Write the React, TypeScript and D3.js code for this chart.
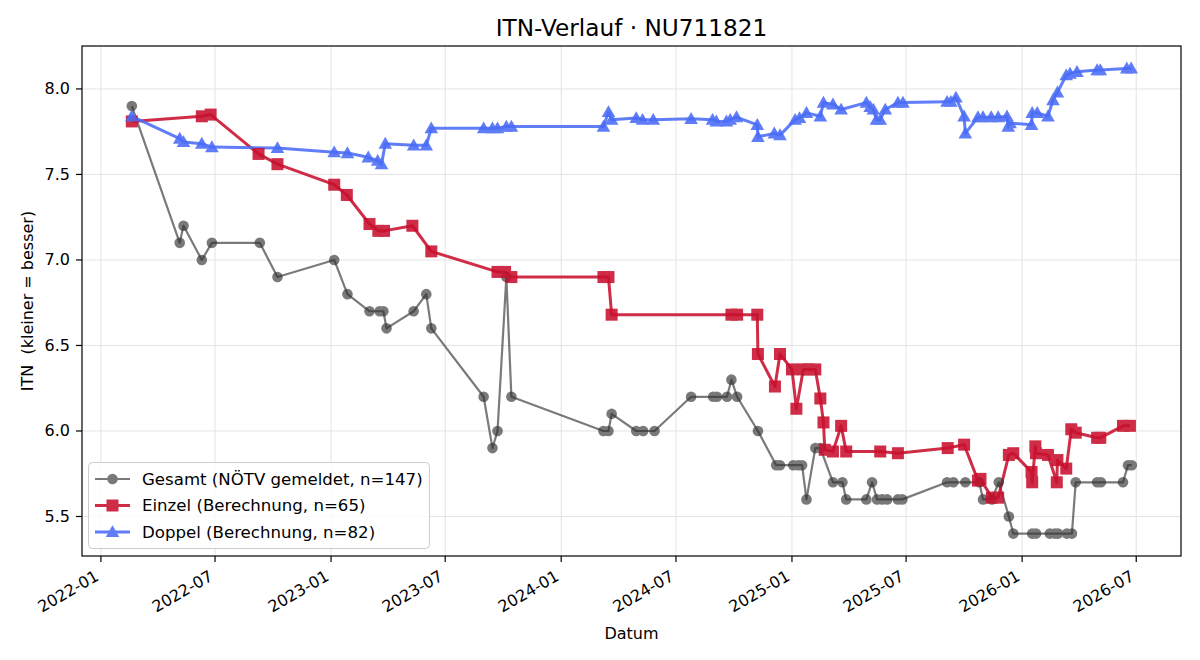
import React from 'react';
import * as d3 from 'd3';

// Gesamt (NÖTV gemeldet)
const gesamtDates = [
  '2022-02-19', '2022-05-06', '2022-05-12', '2022-06-10', '2022-06-26', '2022-09-10', '2022-10-08',
  '2023-01-06', '2023-01-27', '2023-03-03', '2023-03-19', '2023-03-25', '2023-03-30', '2023-05-12',
  '2023-06-01', '2023-06-09', '2023-08-31', '2023-09-14', '2023-09-22', '2023-10-06', '2023-10-14',
  '2024-03-08', '2024-03-16', '2024-03-21', '2024-04-29', '2024-05-10', '2024-05-28', '2024-07-25',
  '2024-08-29', '2024-09-04', '2024-09-20', '2024-09-27', '2024-10-06', '2024-11-08', '2024-12-07',
  '2024-12-13', '2025-01-03', '2025-01-11', '2025-01-17', '2025-01-24', '2025-02-07', '2025-02-15',
  '2025-03-07', '2025-03-22', '2025-03-28', '2025-04-29', '2025-05-08', '2025-05-16', '2025-05-24',
  '2025-06-01', '2025-06-18', '2025-06-25', '2025-09-04', '2025-09-14', '2025-10-03', '2025-10-25',
  '2025-10-31', '2025-11-14', '2025-11-25', '2025-12-11', '2025-12-18', '2026-01-17', '2026-01-23',
  '2026-02-14', '2026-02-22', '2026-02-27', '2026-03-13', '2026-03-21', '2026-03-27', '2026-04-30',
  '2026-05-06', '2026-06-10', '2026-06-18', '2026-06-24',
];
const gesamtValues = [
  7.9, 7.1, 7.2, 7.0, 7.1, 7.1, 6.9,
  7.0, 6.8, 6.7, 6.7, 6.7, 6.6, 6.7,
  6.8, 6.6, 6.2, 5.9, 6.0, 6.9, 6.2,
  6.0, 6.0, 6.1, 6.0, 6.0, 6.0, 6.2,
  6.2, 6.2, 6.2, 6.3, 6.2, 6.0, 5.8,
  5.8, 5.8, 5.8, 5.8, 5.6, 5.9, 5.9,
  5.7, 5.7, 5.6, 5.6, 5.7, 5.6, 5.6,
  5.6, 5.6, 5.6, 5.7, 5.7, 5.7, 5.7,
  5.6, 5.6, 5.7, 5.5, 5.4, 5.4, 5.4,
  5.4, 5.4, 5.4, 5.4, 5.4, 5.7, 5.7,
  5.7, 5.7, 5.8, 5.8,
];

// Einzel (Berechnung)
const einzelDates = [
  '2022-02-19', '2022-06-10', '2022-06-24', '2022-09-08', '2022-10-08', '2023-01-06', '2023-01-26',
  '2023-03-03', '2023-03-17', '2023-03-26', '2023-05-10', '2023-06-09', '2023-09-22', '2023-10-04',
  '2023-10-14', '2024-03-08', '2024-03-16', '2024-03-21', '2024-09-27', '2024-10-06', '2024-11-07',
  '2024-11-08', '2024-12-05', '2024-12-13', '2025-01-01', '2025-01-08', '2025-01-19', '2025-01-27',
  '2025-02-07', '2025-02-15', '2025-02-20', '2025-02-22', '2025-03-07', '2025-03-20', '2025-03-28',
  '2025-05-21', '2025-06-18', '2025-09-05', '2025-10-01', '2025-10-23', '2025-10-27', '2025-11-14',
  '2025-11-24', '2025-12-11', '2025-12-18', '2026-01-16', '2026-01-17', '2026-01-22', '2026-01-23',
  '2026-02-11', '2026-02-25', '2026-02-26', '2026-03-12', '2026-03-20', '2026-03-27', '2026-04-30',
  '2026-05-05', '2026-06-10', '2026-06-21',
];
const einzelValues = [
  7.81, 7.84, 7.85, 7.62, 7.56, 7.44, 7.38,
  7.21, 7.17, 7.17, 7.2, 7.05, 6.93, 6.93,
  6.9, 6.9, 6.9, 6.68, 6.68, 6.68, 6.68,
  6.45, 6.26, 6.45, 6.36, 6.13, 6.36, 6.36,
  6.36, 6.19, 6.05, 5.89, 5.88, 6.03, 5.88,
  5.88, 5.87, 5.9, 5.92, 5.71, 5.72, 5.61,
  5.61, 5.86, 5.87, 5.76, 5.7, 5.91, 5.87,
  5.86, 5.7, 5.83, 5.78, 6.01, 5.99, 5.96,
  5.96, 6.03, 6.03,
];

// Doppel (Berechnung)
const doppelDates = [
  '2022-02-19', '2022-05-06', '2022-05-12', '2022-06-10', '2022-06-26', '2022-10-08', '2023-01-06',
  '2023-01-27', '2023-03-01', '2023-03-16', '2023-03-22', '2023-03-28', '2023-05-12', '2023-06-01',
  '2023-06-09', '2023-08-31', '2023-09-14', '2023-09-22', '2023-10-06', '2023-10-14', '2024-03-08',
  '2024-03-16', '2024-03-21', '2024-04-29', '2024-05-09', '2024-05-26', '2024-07-25', '2024-08-28',
  '2024-09-03', '2024-09-19', '2024-09-25', '2024-10-05', '2024-11-07', '2024-11-08', '2024-12-04',
  '2024-12-13', '2025-01-06', '2025-01-13', '2025-01-24', '2025-02-15', '2025-02-20', '2025-03-07',
  '2025-03-20', '2025-04-29', '2025-05-05', '2025-05-10', '2025-05-15', '2025-05-21', '2025-05-29',
  '2025-06-18', '2025-06-26', '2025-09-04', '2025-09-10', '2025-09-18', '2025-10-01', '2025-10-03',
  '2025-10-23', '2025-10-31', '2025-11-13', '2025-11-24', '2025-12-08', '2025-12-10', '2025-12-13',
  '2026-01-16', '2026-01-17', '2026-01-25', '2026-02-11', '2026-02-19', '2026-02-26', '2026-03-12',
  '2026-03-18', '2026-03-29', '2026-04-30', '2026-05-05', '2026-06-16', '2026-06-23',
];
const doppelValues = [
  7.84, 7.71, 7.69, 7.68, 7.66, 7.655, 7.63,
  7.625, 7.6, 7.58, 7.56, 7.68, 7.67, 7.67,
  7.77, 7.77, 7.77, 7.77, 7.78, 7.78, 7.78,
  7.865, 7.82, 7.83, 7.82, 7.82, 7.825, 7.82,
  7.81, 7.81, 7.82, 7.835, 7.79, 7.72, 7.74,
  7.73, 7.82, 7.83, 7.86, 7.84, 7.92, 7.91,
  7.88, 7.92, 7.895, 7.88, 7.82, 7.82, 7.88,
  7.92, 7.92, 7.925, 7.925, 7.95, 7.84, 7.74,
  7.835, 7.835, 7.835, 7.835, 7.84, 7.78, 7.8,
  7.79, 7.86, 7.86, 7.84, 7.935, 7.98, 8.08,
  8.09, 8.1, 8.11, 8.11, 8.12, 8.12,
];

const yTicks = [5.5, 6.0, 6.5, 7.0, 7.5, 8.0];
const xTickLabels = [
  '2022-01', '2022-07', '2023-01', '2023-07', '2024-01',
  '2024-07', '2025-01', '2025-07', '2026-01', '2026-07',
];
const legendLabels = [
  'Gesamt (NÖTV gemeldet, n=147)',
  'Einzel (Berechnung, n=65)',
  'Doppel (Berechnung, n=82)',
];

const W = 1200;
const H = 660;
const plot = { left: 82, right: 1181, top: 46, bottom: 556 };
const font = 'DejaVu Sans, Verdana, sans-serif';

const parse = d3.timeParse('%Y-%m-%d');
const parseMonth = d3.timeParse('%Y-%m');

type Pt = { date: Date; value: number };
const toPoints = (dates: string[], values: number[]): Pt[] =>
  dates.map((d, i) => ({ date: parse(d) as Date, value: values[i] }));

const series = [
  { name: legendLabels[0], pts: toPoints(gesamtDates, gesamtValues), color: '#333333', opacity: 0.65, width: 2.2, marker: 'circle' },
  { name: legendLabels[1], pts: toPoints(einzelDates, einzelValues), color: '#c8102e', opacity: 0.88, width: 3, marker: 'square' },
  { name: legendLabels[2], pts: toPoints(doppelDates, doppelValues), color: '#4a6cf7', opacity: 0.88, width: 3, marker: 'triangle' },
];

const Marker = ({ kind, x, y, color }: { kind: string; x: number; y: number; color: string }) => {
  if (kind === 'circle') return <circle cx={x} cy={y} r={5.3} fill={color} />;
  if (kind === 'square') return <rect x={x - 6} y={y - 6} width={12} height={12} fill={color} />;
  const s = 6.8;
  return <path d={`M${x},${y - s}L${x + s},${y + s * 0.75}L${x - s},${y + s * 0.75}Z`} fill={color} />;
};

export default function App() {
  const x = d3.scaleTime()
    .domain([parse('2021-12-02') as Date, parse('2026-09-10') as Date])
    .range([plot.left, plot.right]);
  const y = d3.scaleLinear().domain([5.269, 8.251]).range([plot.bottom, plot.top]);

  const line = d3.line<Pt>().x((d) => x(d.date)).y((d) => y(d.value));

  const xTicks = xTickLabels.map((t) => ({ label: t, pos: x(parseMonth(t) as Date) }));
  const cx = (plot.left + plot.right) / 2;

  return (
    <svg width={W} height={H} style={{ position: 'absolute', left: 0, top: 0, background: '#fff' }} fontFamily={font}>
      <rect x={0} y={0} width={W} height={H} fill="#fff" />

      {/* grid */}
      {xTicks.map((t) => (
        <line key={'gx' + t.label} x1={t.pos} x2={t.pos} y1={plot.top} y2={plot.bottom} stroke="#e3e3e3" strokeWidth={1} />
      ))}
      {yTicks.map((v) => (
        <line key={'gy' + v} x1={plot.left} x2={plot.right} y1={y(v)} y2={y(v)} stroke="#e3e3e3" strokeWidth={1} />
      ))}

      {/* series */}
      {series.map((s) => (
        <g key={s.name} opacity={s.opacity}>
          <path d={line(s.pts) as string} fill="none" stroke={s.color} strokeWidth={s.width} strokeLinejoin="round" />
        </g>
      ))}
      {series.map((s) => (
        <g key={s.name + 'm'} opacity={s.opacity}>
          {s.pts.map((p, i) => (
            <Marker key={i} kind={s.marker} x={x(p.date)} y={y(p.value)} color={s.color} />
          ))}
        </g>
      ))}

      {/* frame */}
      <rect x={plot.left} y={plot.top} width={plot.right - plot.left} height={plot.bottom - plot.top} fill="none" stroke="#000" strokeWidth={1.2} />

      {/* y axis */}
      {yTicks.map((v) => (
        <g key={'yt' + v}>
          <line x1={plot.left - 6} x2={plot.left} y1={y(v)} y2={y(v)} stroke="#000" strokeWidth={1.2} />
          <text x={plot.left - 12} y={y(v)} textAnchor="end" dominantBaseline="central" fontSize={16} fill="#000">
            {v.toFixed(1)}
          </text>
        </g>
      ))}

      {/* x axis */}
      {xTicks.map((t) => (
        <g key={'xt' + t.label}>
          <line x1={t.pos} x2={t.pos} y1={plot.bottom} y2={plot.bottom + 6} stroke="#000" strokeWidth={1.2} />
          <text
            transform={`translate(${t.pos - 7},${plot.bottom + 13}) rotate(-30)`}
            textAnchor="end"
            dominantBaseline="hanging"
            fontSize={16}
            fill="#000"
          >
            {t.label}
          </text>
        </g>
      ))}

      <text x={cx} y={639} textAnchor="middle" fontSize={16} fill="#000">Datum</text>
      <text transform={`translate(27,${(plot.top + plot.bottom) / 2}) rotate(-90)`} textAnchor="middle" dominantBaseline="central" fontSize={16} fill="#000" style={{ whiteSpace: 'pre' }}>
        {'ITN  (kleiner = besser)'}
      </text>
      <text x={cx} y={36} textAnchor="middle" fontSize={23.2} fill="#000">ITN-Verlauf · NU711821</text>

      {/* legend */}
      <g>
        <rect x={88.5} y={462.5} width={341} height={86} rx={4} fill="#fff" fillOpacity={0.8} stroke="#cccccc" strokeWidth={1} />
        {series.map((s, i) => {
          const ly = 479 + i * 26.5;
          return (
            <g key={'lg' + i}>
              <g opacity={s.opacity}>
                <line x1={95} x2={130} y1={ly} y2={ly} stroke={s.color} strokeWidth={s.width} />
                <Marker kind={s.marker} x={112.5} y={ly} color={s.color} />
              </g>
              <text x={142} y={ly} dominantBaseline="central" fontSize={16.6} fill="#000">{s.name}</text>
            </g>
          );
        })}
      </g>
    </svg>
  );
}
